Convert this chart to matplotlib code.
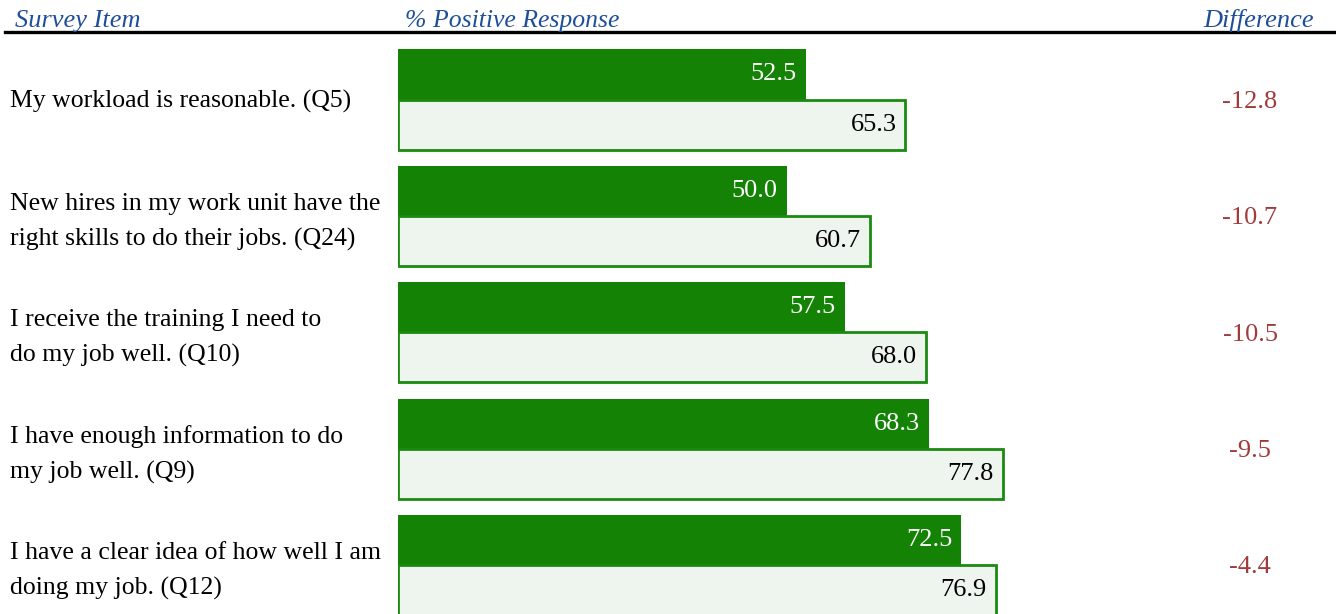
import matplotlib
matplotlib.use("Agg")
import matplotlib.pyplot as plt
from matplotlib.transforms import blended_transform_factory

plt.rcParams['font.family'] = ['Liberation Serif', 'DejaVu Serif']

items = [
    "My workload is reasonable. (Q5)",
    "New hires in my work unit have the\nright skills to do their jobs. (Q24)",
    "I receive the training I need to\ndo my job well. (Q10)",
    "I have enough information to do\nmy job well. (Q9)",
    "I have a clear idea of how well I am\ndoing my job. (Q12)",
]
series_a = [52.5, 50.0, 57.5, 68.3, 72.5]
series_b = [65.3, 60.7, 68.0, 77.8, 76.9]
difference = [-12.8, -10.7, -10.5, -9.5, -4.4]
headers = ["Survey Item", "% Positive Response", "Difference"]

W, H = 1336, 614
fig = plt.figure(figsize=(W / 100, H / 100), dpi=100)

x0, xw = 398, 777  # pixel start and width of 0..100
pitch = 116.4
c0 = 99.5
ax = fig.add_axes([x0 / W, 0, xw / W, 1])
ax.set_xlim(0, 100)
ytop = -c0 / pitch
ybot = (H - c0) / pitch
ax.set_ylim(ybot, ytop)
ax.axis('off')

dark = '#138205'
light_face = '#eef5ee'
light_edge = '#1a8a10'
h = 0.43
fs = 19
ys = list(range(len(items)))
ax.barh([y - h / 2 for y in ys], series_a, height=h, color=dark, edgecolor='none')
ax.barh([y + h / 2 for y in ys], series_b, height=h, color=light_face,
        edgecolor=light_edge, linewidth=2)

for y, a, b in zip(ys, series_a, series_b):
    ax.text(a - 1.15, y - h / 2, f"{a:.1f}", ha='right', va='center',
            color='white', fontsize=fs)
    ax.text(b - 1.15, y + h / 2, f"{b:.1f}", ha='right', va='center',
            color='black', fontsize=fs)

trans = blended_transform_factory(fig.transFigure, ax.transData)
for y, lab, d in zip(ys, items, difference):
    off = 0.05 if "\n" in lab else 0.015
    fig.text(10 / W, y + off, lab, transform=trans, ha='left', va='center',
             fontsize=18.5, color='black', linespacing=1.72)
    fig.text(1250 / W, y + 0.02, f"{d:.1f}", transform=trans, ha='center', va='center',
             fontsize=fs, color='#a33a3a')

hc = '#1f4e99'
fig.text(15 / W, 1 - 27 / H, headers[0], ha='left', va='baseline',
         fontsize=fs, style='italic', color=hc)
fig.text(405 / W, 1 - 27 / H, headers[1], ha='left', va='baseline',
         fontsize=18.5, style='italic', color=hc)
fig.text(1314 / W, 1 - 27 / H, headers[2], ha='right', va='baseline',
         fontsize=fs, style='italic', color=hc)
fig.add_artist(plt.Line2D([5 / W, 1], [1 - 32 / H, 1 - 32 / H], color='black',
                          linewidth=2.4, transform=fig.transFigure))

fig.savefig('out.png', dpi=100)
